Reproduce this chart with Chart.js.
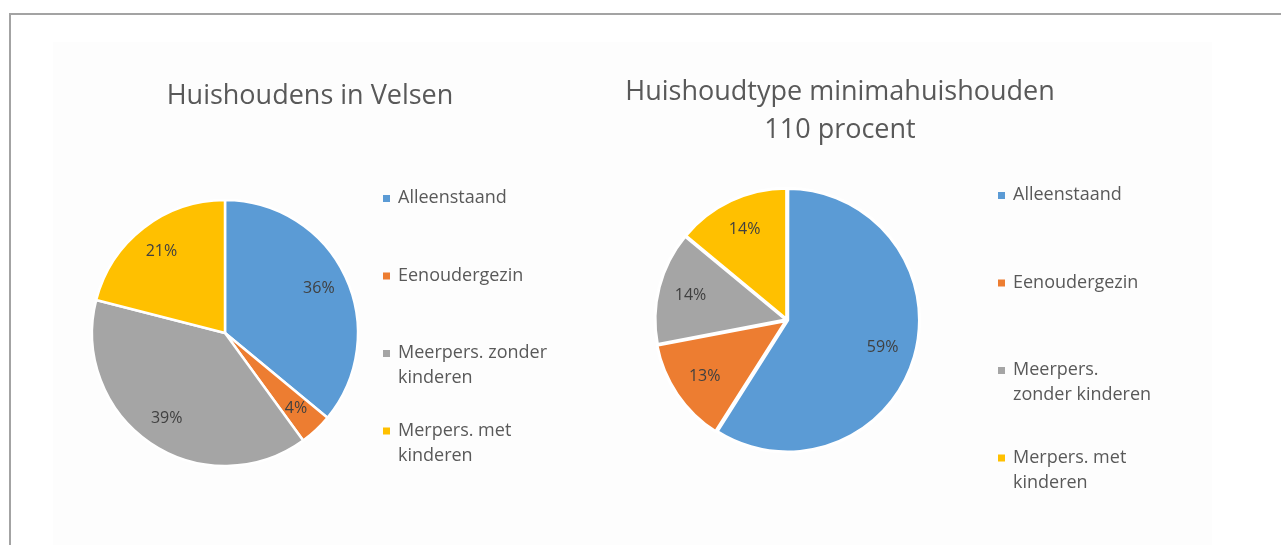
<!DOCTYPE html>
<html>
<head>
<meta charset="utf-8">
<script src="https://cdn.jsdelivr.net/npm/chart.js@4/dist/chart.umd.min.js"></script>
<style>
  html, body { margin: 0; padding: 0; background: #fff; }
  body { width: 1281px; height: 545px; position: relative; overflow: hidden; }
  .frame { position: absolute; left: 9px; top: 13px; right: -2px; bottom: -2px; border-top: 2px solid #a3a3a3; border-left: 2px solid #a3a3a3; }
  .panel { position: absolute; left: 53px; top: 42px; width: 1159px; height: 503px; background: #fdfdfd; }
  canvas { position: absolute; left: 0; top: 0; }
</style>
</head>
<body>
<div class="frame"></div>
<div class="panel"></div>
<canvas id="velsenChart" width="1281" height="545"></canvas>
<canvas id="minimaChart" width="1281" height="545"></canvas>
<script>
const categories = ["Alleenstaand", "Eenoudergezin", "Meerpers. zonder kinderen", "Merpers. met kinderen"];
const velsenValues = [36, 4, 39, 21];
const minimaValues = [59, 13, 14, 14];
const sliceColors = ["#5b9bd5", "#ed7d31", "#a5a5a5", "#ffc000"];

// legend lines, wrapped as in the picture
const velsenLegend = [["Alleenstaand"], ["Eenoudergezin"], ["Meerpers. zonder", "kinderen"], ["Merpers. met", "kinderen"]];
const minimaLegend = [["Alleenstaand"], ["Eenoudergezin"], ["Meerpers.", "zonder kinderen"], ["Merpers. met", "kinderen"]];

const FONT = "'Open Sans', sans-serif";
const TEXT = "#595959";

// titles, % labels and legend, placed in page pixels
const decorPlugin = {
  id: "decor",
  afterDatasetsDraw(chart, args, opts) {
    const ctx = chart.ctx;
    ctx.save();
    ctx.textBaseline = "middle";

    // title
    ctx.fillStyle = TEXT;
    ctx.textAlign = "center";
    ctx.font = `27px ${FONT}`;
    opts.title.forEach((line, i) => ctx.fillText(line, opts.titleX, opts.titleY + i * 38));

    // percentage labels inside the slices
    const meta = chart.getDatasetMeta(0);
    const data = chart.data.datasets[0].data;
    const total = data.reduce((a, b) => a + b, 0);
    ctx.font = `16px ${FONT}`;
    ctx.fillStyle = "#404040";
    meta.data.forEach((arc, i) => {
      const p = arc.getProps(["x", "y", "startAngle", "endAngle", "outerRadius"], true);
      const mid = (p.startAngle + p.endAngle) / 2;
      const r = p.outerRadius * opts.labelPos;
      const pct = Math.round((data[i] / total) * 100) + "%";
      ctx.fillText(pct, p.x + Math.cos(mid) * r, p.y + Math.sin(mid) * r);
    });

    // legend
    ctx.textAlign = "left";
    ctx.font = `18px ${FONT}`;
    opts.legend.forEach((lines, i) => {
      const y = opts.legendY + i * opts.legendStep;
      ctx.fillStyle = sliceColors[i];
      ctx.fillRect(opts.legendX, y - 3, 7, 7);
      ctx.fillStyle = TEXT;
      lines.forEach((t, j) => ctx.fillText(t, opts.legendX + 15, y + j * 25));
    });
    ctx.restore();
  }
};

function pieChart(id, values, center, radius, offset, border, decor) {
  const side = radius + 10;
  return new Chart(document.getElementById(id), {
    type: "pie",
    data: {
      labels: categories,
      datasets: [{
        data: values,
        backgroundColor: sliceColors,
        borderColor: "#ffffff",
        borderWidth: border,
        hoverBorderWidth: border,
        offset: offset,
        hoverOffset: 0
      }]
    },
    options: {
      responsive: false,
      animation: false,
      radius: radius,
      layout: {
        padding: {
          left: center[0] - side,
          right: 1281 - center[0] - side,
          top: center[1] - side,
          bottom: 545 - center[1] - side
        }
      },
      plugins: {
        legend: { display: false },
        tooltip: { enabled: false },
        decor: decor
      }
    },
    plugins: [decorPlugin]
  });
}

pieChart("velsenChart", velsenValues, [225, 333], 133, 0, 2.5, {
  title: ["Huishoudens in Velsen"], titleX: 310, titleY: 96,
  labelPos: 0.78,
  legend: velsenLegend, legendX: 383, legendY: 198, legendStep: 77.5
});

pieChart("minimaChart", minimaValues, [787, 320], 131, [3, 5, 3, 3], 3, {
  title: ["Huishoudtype minimahuishouden", "110 procent"], titleX: 840, titleY: 92,
  labelPos: 0.76,
  legend: minimaLegend, legendX: 998, legendY: 195, legendStep: 87.5
});
</script>
</body>
</html>
